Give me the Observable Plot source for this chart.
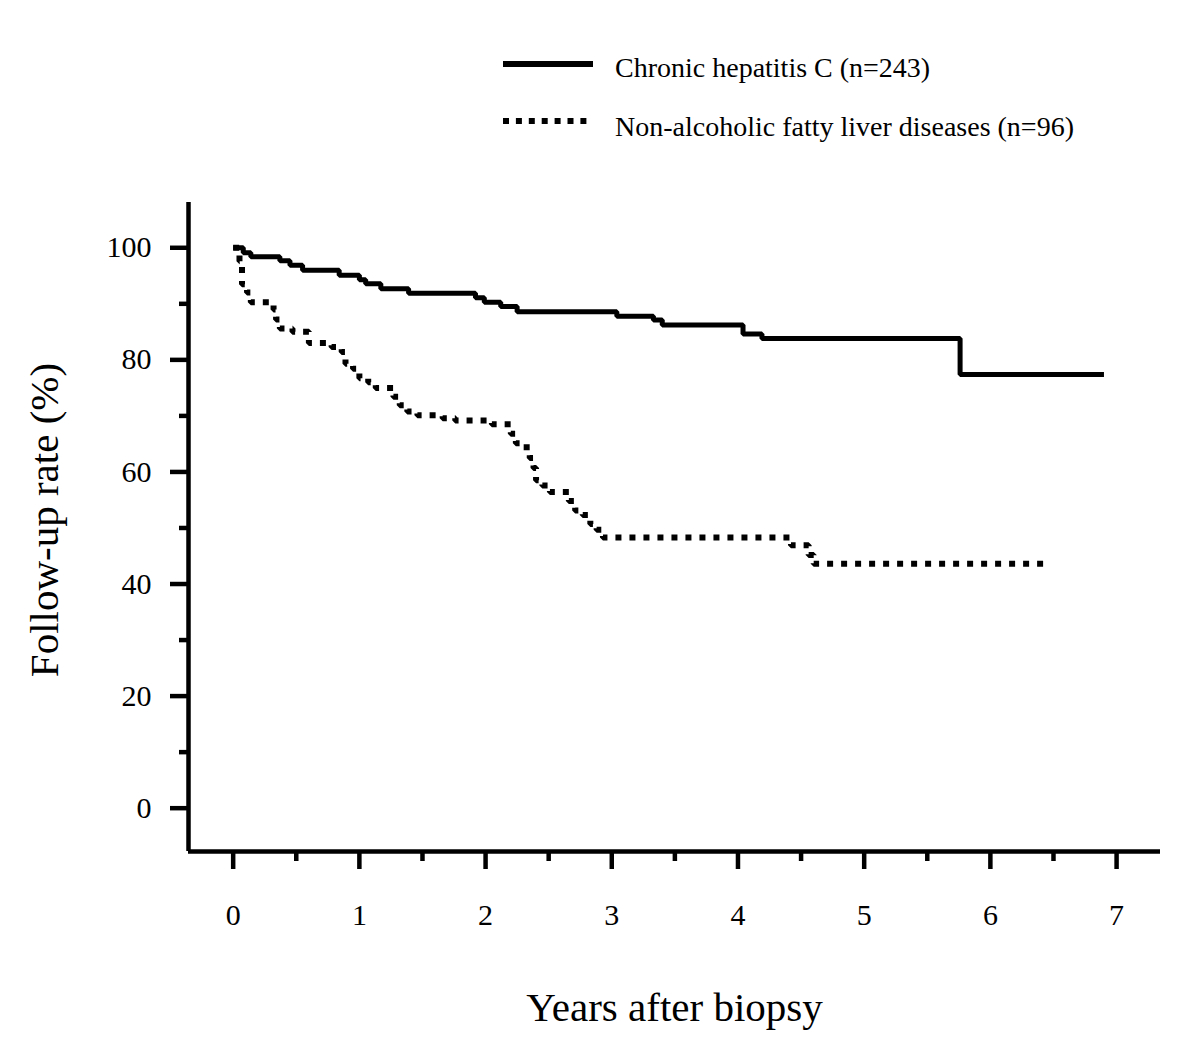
<!DOCTYPE html>
<html>
<head>
<meta charset="utf-8">
<script src="https://cdn.jsdelivr.net/npm/d3@7"></script>
<script src="https://cdn.jsdelivr.net/npm/@observablehq/plot@0.6"></script>
<style>
  html, body { margin: 0; padding: 0; background: white; }
  #legend { position: relative; width: 1200px; height: 160px; font-family: "Liberation Serif", "Times New Roman", serif; font-size: 28px; color: black; }
  #legend svg { position: absolute; left: 0; top: 0; }
  #legend .lab { position: absolute; left: 615px; white-space: nowrap; line-height: 1; }
</style>
</head>
<body>
<div id="legend"></div>
<div id="chart"></div>
<script>
// ---- Data ----
const seriesNames = ["Chronic hepatitis C (n=243)", "Non-alcoholic fatty liver diseases (n=96)"];

const chcYears = [0, 0.08, 0.14, 0.37, 0.45, 0.55, 0.84, 1.0, 1.05, 1.17, 1.39, 1.92, 1.99, 2.12, 2.25, 3.04, 3.33, 3.40, 4.04, 4.19, 5.76, 6.90];
const chcRate  = [100, 99.1, 98.4, 97.7, 96.9, 96.0, 95.1, 94.3, 93.6, 92.7, 91.9, 91.1, 90.3, 89.5, 88.6, 87.8, 87.1, 86.2, 84.6, 83.8, 77.4, 77.4];

const nafldYears = [0, 0.05, 0.07, 0.11, 0.14, 0.32, 0.34, 0.37, 0.47, 0.60, 0.78, 0.86, 0.89, 0.95, 1.00, 1.07, 1.13, 1.27, 1.32, 1.38, 1.46, 1.66, 1.76, 2.05, 2.20, 2.24, 2.28, 2.35, 2.38, 2.40, 2.45, 2.51, 2.66, 2.71, 2.77, 2.83, 2.88, 2.93, 4.42, 4.56, 4.60, 6.42];
const nafldRate  = [100, 97.6, 93.5, 92.0, 90.3, 89.0, 87.2, 85.6, 85.0, 83.0, 82.3, 81.4, 79.3, 78.4, 76.7, 76.0, 75.0, 73.4, 71.9, 70.8, 70.1, 69.6, 69.2, 68.5, 66.8, 65.1, 64.4, 62.5, 60.7, 58.5, 57.6, 56.4, 54.8, 53.1, 52.3, 50.7, 49.7, 48.3, 46.9, 45.2, 43.6, 43.6];

const xMajorTicks = [0, 1, 2, 3, 4, 5, 6, 7];
const xMinorTicks = [0.5, 1.5, 2.5, 3.5, 4.5, 5.5, 6.5];
const yMajorTicks = [0, 20, 40, 60, 80, 100];
const yMinorTicks = [10, 30, 50, 70, 90];

const xDomain = [-0.354, 7.348];
const yDomain = [-7.73, 108.08];

const xTitle = "Years after biopsy";
const yTitle = "Follow-up rate (%)";

// ---- Build tables ----
const chc = chcYears.map((t, i) => ({t, v: chcRate[i]}));
const nafld = nafldYears.map((t, i) => ({t, v: nafldRate[i]}));

// ---- Legend (HTML) ----
const legend = document.getElementById("legend");
legend.innerHTML = `
<svg width="1200" height="160">
  <line x1="503" x2="593" y1="64" y2="64" stroke="black" stroke-width="6"/>
  <line x1="503" x2="593" y1="121" y2="121" stroke="black" stroke-width="6" stroke-dasharray="6,6.9"/>
</svg>
<div class="lab" style="top:54px">${seriesNames[0]}</div>
<div class="lab" style="top:113px">${seriesNames[1]}</div>`;

// ---- Chart ----
const tickStroke = 4.5;
const chart = Plot.plot({
  width: 1200,
  height: 881,
  marginTop: 42,
  marginBottom: 190,
  marginLeft: 188,
  marginRight: 40,
  x: {domain: xDomain},
  y: {domain: yDomain},
  style: {fontFamily: "'Liberation Serif', 'Times New Roman', serif", fontSize: "30px", color: "black", background: "white", overflow: "visible"},
  marks: [
    Plot.axisX({ticks: xMinorTicks, tickSize: 10, tickFormat: () => "", strokeWidth: tickStroke, label: null}),
    Plot.axisX({ticks: xMajorTicks, tickSize: 18, tickPadding: 34, strokeWidth: tickStroke, fontSize: 30, label: null}),
    Plot.axisY({ticks: yMinorTicks, tickSize: 9, tickFormat: () => "", strokeWidth: tickStroke, label: null}),
    Plot.axisY({ticks: yMajorTicks, tickSize: 18, tickPadding: 19, strokeWidth: tickStroke, fontSize: 30, label: null}),
    Plot.ruleX([xDomain[0]], {stroke: "black", strokeWidth: 4.5}),
    Plot.ruleY([yDomain[0]], {stroke: "black", strokeWidth: 4.5}),
    Plot.line(chc, {x: "t", y: "v", curve: "step-after", stroke: "black", strokeWidth: 5, strokeLinecap: "butt", strokeLinejoin: "miter"}),
    Plot.line(nafld, {x: "t", y: "v", curve: "step-after", stroke: "black", strokeWidth: 6, strokeDasharray: "6,8", strokeLinecap: "butt", strokeLinejoin: "miter"}),
    Plot.text([yTitle], {frameAnchor: "left", textAnchor: "middle", dx: -144, dy: -7, rotate: -90, fontSize: 41}),
    Plot.text([xTitle], {frameAnchor: "bottom", textAnchor: "middle", lineAnchor: "bottom", dy: 169, fontSize: 41})
  ]
});
document.getElementById("chart").appendChild(chart);
</script>
</body>
</html>
